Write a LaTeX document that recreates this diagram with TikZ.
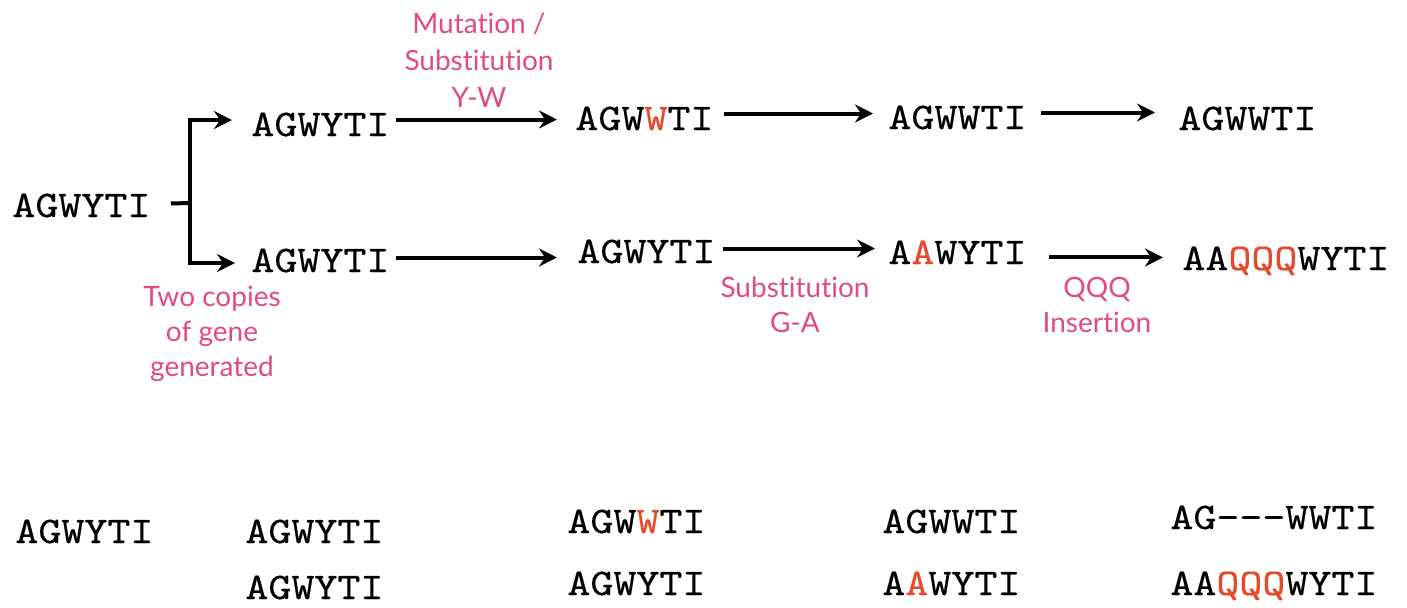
\documentclass[tikz,border=0pt]{standalone}
\usepackage{fontspec}
\newfontfamily\seqfont{lmmono10-regular.otf}[FakeStretch=1.165,FakeBold=0.5]
\newfontfamily\lab{Lato}[Ligatures=NoCommon]
\usetikzlibrary{arrows.meta}
\definecolor{lblpink}{HTML}{E04A86}
\definecolor{mutred}{HTML}{E64A2D}
\newcommand{\mt}[1]{\textcolor{mutred}{#1}}
\begin{document}
\begin{tikzpicture}[x=0.5pt,y=-0.5pt,
  seq/.style={inner sep=0pt, anchor=base west, font=\fontsize{18.8}{20}\seqfont},
  lbl/.style={inner sep=0pt, align=center, text=lblpink, font=\fontsize{14}{17.5}\lab},
  arr/.style={line width=2pt, -{Stealth[length=9pt,width=9pt,inset=3pt]}},
  br/.style={line width=2pt}]
\useasboundingbox (0,0) rectangle (1407,607);

% upper scheme
\node[seq] (s0) at (12,217) {AGWYTI};
\node[seq] (t1) at (251,136) {AGWYTI};
\node[seq] (t2) at (575,130) {AGW\mt{W}TI};
\node[seq] (t3) at (888,129) {AGWWTI};
\node[seq] (t4) at (1178,130) {AGWWTI};
\node[seq] (b1) at (251,272) {AGWYTI};
\node[seq] (b2) at (577,263) {AGWYTI};
\node[seq] (b3) at (888,264) {A\mt{A}WYTI};
\node[seq] (b4) at (1182,270) {AA\mt{QQQ}WYTI};

\coordinate (jt) at (190,120);
\coordinate (jm) at (190,203);
\coordinate (jb) at (190,263);

\draw[br] ([shift={(20,-2)}]s0.east) -- (jm);
\draw[arr, line cap=rect, shorten >=9.5pt] (jb) -- (jt) -- (jt -| t1.west);
\draw[arr, line cap=rect, shorten >=8pt] (jb) -- (jb -| b1.west);

\draw[arr, shorten >=9pt]   ([shift={(6,-5)}]t1.east) coordinate (a1) -- (a1 -| t2.west);
\draw[arr, shorten >=7.5pt] ([shift={(10,-5)}]t2.east) coordinate (a2) -- (a2 -| t3.west);
\draw[arr, shorten >=11.5pt]([shift={(14,-5)}]t3.east) coordinate (a3) -- (a3 -| t4.west);
\draw[arr, shorten >=10pt]  ([shift={(6,-3)}]b1.east) coordinate (a4) -- (a4 -| b2.west);
\draw[arr, shorten >=6.5pt] ([shift={(7,-3)}]b2.east) coordinate (a5) -- (a5 -| b3.west);
\draw[arr, shorten >=9.5pt] ([shift={(22,5)}]b3.east) coordinate (a6) -- (a6 -| b4.west);

\node[lbl, font=\fontsize{14}{18.5}\lab] (l1) at (479,60) {Mutation /\\Substitution\\Y-W};
\node[lbl] (l2) at (212,334) {Two copies\\of gene\\generated};
\node[lbl] (l3) at (795,305) {Substitution\\G-A};
\node[lbl] (l4) at (1097,305) {QQQ\\Insertion};

% alignment
\node[seq] (c0) at (15,543) {AGWYTI};
\node[seq] (c1a) at (245,543) {AGWYTI};
\node[seq] (c1b) at (245,599) {AGWYTI};
\node[seq] (c2a) at (567,533) {AGW\mt{W}TI};
\node[seq] (c2b) at (567,595) {AGWYTI};
\node[seq] (c3a) at (882,533) {AGWWTI};
\node[seq] (c3b) at (882,595) {A\mt{A}WYTI};
\node[seq] (c4a) at (1170,529) {AG-{}-{}-WWTI};
\node[seq] (c4b) at (1170,595) {AA\mt{QQQ}WYTI};
\end{tikzpicture}
\end{document}
